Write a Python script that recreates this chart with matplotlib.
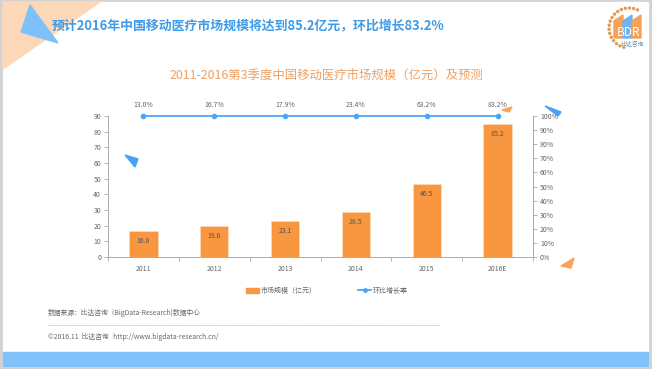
import matplotlib.pyplot as plt
import numpy as np
from matplotlib.patches import Polygon, Rectangle, Circle
from matplotlib.lines import Line2D

plt.rcParams['font.family'] = ['Noto Sans CJK SC', 'DejaVu Sans']

# data
years = ['2011', '2012', '2013', '2014', '2015', '2016E']
market_size = [16.8, 19.6, 23.1, 28.5, 46.5, 85.2]          # 亿元
growth_labels = ['13.0%', '16.7%', '17.9%', '23.4%', '63.2%', '83.2%']
growth_line_pos = [1.0, 1.0, 1.0, 1.0, 1.0, 1.0]            # line drawn at top of right axis

W, H = 652, 369
ORANGE = '#f99640'
BLUE = '#4da6f2'
GREY = '#666666'

fig = plt.figure(figsize=(W / 100, H / 100), dpi=100)

# background / decoration layer in pixel coords
bg = fig.add_axes([0, 0, 1, 1])
bg.set_xlim(0, W)
bg.set_ylim(H, 0)
bg.axis('off')
bg.add_patch(Rectangle((0, 0), W, H, color='#d2d2d2', zorder=0))
bg.add_patch(Rectangle((3, 2), W - 7, H - 5, color='white', zorder=1))
bg.add_patch(Polygon([(3, 2), (100, 2), (3, 69)], color='#fdd8b8', zorder=2))
bg.add_patch(Polygon([(30, 5), (58, 43), (21, 32)], color='#80c0fa', zorder=3))
bg.add_patch(Rectangle((3, 352), W - 7, 14, color='#7fc1f8', zorder=2))

# small decorative triangles
bg.add_patch(Polygon([(125, 155), (138, 159), (135, 167)], color='#4aa3f0', zorder=3))
bg.add_patch(Polygon([(545, 106), (561, 112), (558, 116)], color='#4aa3f0', zorder=3))
bg.add_patch(Polygon([(561, 266), (574, 258), (571, 268)], color='#f9a25a', zorder=3))
bg.add_patch(Polygon([(502, 110), (512, 107), (509, 112)], color='#f9a25a', zorder=3))

# header
bg.text(52, 25, '预计2016年中国移动医疗市场规模将达到85.2亿元，环比增长83.2%',
        color='#3d9be9', fontsize=9.3, fontweight='bold', va='center', ha='left', zorder=4)

# BDR logo
for a in np.linspace(65, 255, 17):
    r = 20
    bg.add_patch(Circle((629 + r * np.cos(np.radians(a)), 28 - r * np.sin(np.radians(a))),
                        1.0, color='#e09a5a', zorder=4))
bg.add_patch(Polygon([(614, 21), (623, 15), (623, 38), (614, 38)], color='#f7a155', zorder=4))
bg.add_patch(Polygon([(623, 21), (632, 15), (632, 38), (623, 38)], color='#6fb3f0', zorder=4))
bg.add_patch(Polygon([(632, 21), (641, 15), (641, 38), (632, 38)], color='#f7a155', zorder=4))
bg.text(628, 33, 'BDR', color='white', fontsize=8.5, ha='center', va='center', zorder=5)
bg.text(632, 44, '比达咨询', color='#6a8ab0', fontsize=4.2, ha='center', va='center', zorder=5)

# chart title
bg.text(326, 76, '2011-2016第3季度中国移动医疗市场规模（亿元）及预测',
        color='#f0a060', fontsize=8.9, ha='center', va='center', zorder=4)

# footer
bg.text(48, 313, '数据来源：比达咨询（BigData-Research)数据中心', color=GREY,
        fontsize=4.9, ha='left', va='center', zorder=4)
bg.plot([48, 440], [325, 325], color='#999999', lw=0.5, ls=(0, (1, 1)), zorder=4)
bg.text(48, 337, '©2016.11  比达咨询   http://www.bigdata-research.cn/', color=GREY,
        fontsize=4.9, ha='left', va='center', zorder=4)

# main chart
left, right, top, bottom = 108, 533, 116, 257
ax = fig.add_axes([left / W, 1 - bottom / H, (right - left) / W, (bottom - top) / H])
ax.patch.set_alpha(0)
x = np.arange(len(years))
bars = ax.bar(x, market_size, width=0.4, color=ORANGE, edgecolor='#fcd9b8', linewidth=0.6, zorder=3)
for xi, v in zip(x, market_size):
    ax.annotate(f'{v}', (xi, v), xytext=(0, -10), textcoords='offset pixels',
                ha='center', va='center', fontsize=5, color='#555555')
ax.set_xlim(-0.5, len(years) - 0.5)
ax.set_ylim(0, 90)
ax.set_yticks(np.arange(0, 91, 10))
ax.set_xticks(x)
ax.set_xticklabels(years)
ax.set_xticks(np.arange(-0.5, len(years), 1), minor=True)
ax.tick_params(axis='x', which='major', length=0, pad=6, labelsize=5, labelcolor=GREY)
ax.tick_params(axis='x', which='minor', length=3, color='#aaaaaa', width=0.6)
ax.tick_params(axis='y', length=3, color='#aaaaaa', width=0.6, labelsize=5, labelcolor=GREY, pad=2)
for s in ['top', 'right']:
    ax.spines[s].set_visible(False)
for s in ['left', 'bottom']:
    ax.spines[s].set_color('#aaaaaa')
    ax.spines[s].set_linewidth(0.7)

ax2 = ax.twinx()
ax2.set_ylim(0, 1.0)
ax2.set_yticks(np.arange(0, 1.01, 0.1))
ax2.set_yticklabels([f'{int(round(t * 100))}%' for t in np.arange(0, 1.01, 0.1)])
ax2.tick_params(axis='y', length=3, color='#aaaaaa', width=0.6, labelsize=5, labelcolor=GREY, pad=2)
for s in ['top', 'left', 'bottom']:
    ax2.spines[s].set_visible(False)
ax2.spines['right'].set_color('#aaaaaa')
ax2.spines['right'].set_linewidth(0.7)
ax2.plot(x, growth_line_pos, color=BLUE, lw=1.3, marker='o', ms=3, clip_on=False, zorder=4)
for xi, yv, lab in zip(x, growth_line_pos, growth_labels):
    ax2.annotate(lab, (xi, yv), xytext=(0, 11), textcoords='offset pixels',
                 ha='center', va='center', fontsize=5, color=GREY)

# legend
handles = [Rectangle((0, 0), 1, 1, color=ORANGE),
           Line2D([], [], color=BLUE, lw=1.3, marker='o', ms=2.5)]
fig.legend(handles, ['市场规模（亿元）', '环比增长率'], loc='center',
           bbox_to_anchor=(327 / W, 1 - 291 / H), ncol=2, frameon=False,
           fontsize=5, labelcolor=GREY, handlelength=1.8, handleheight=0.8,
           columnspacing=6, handletextpad=0.3)

fig.savefig('out.png', dpi=100)
